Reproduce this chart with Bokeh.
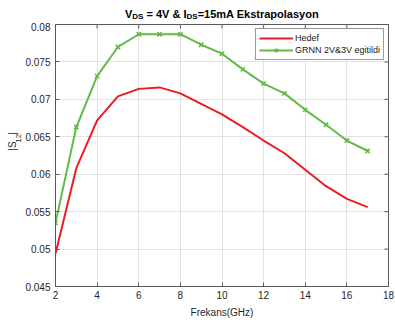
import math
from bokeh.plotting import figure
from bokeh.layouts import column, row
from bokeh.models import (ColumnDataSource, FixedTicker, CustomJSTickFormatter,
                          Legend, LegendItem, Range1d)
from bokeh.core.properties import value
from bokeh.embed import file_html
from bokeh.resources import INLINE

# ---- data ----
freq = [2, 3, 4, 5, 6, 7, 8, 9, 10, 11, 12, 13, 14, 15, 16, 17]
hedef = [0.0494, 0.0608, 0.0672, 0.0704, 0.0714, 0.0716, 0.0708, 0.0694,
         0.0680, 0.0663, 0.0645, 0.0628, 0.0606, 0.0584, 0.0567, 0.0556]
grnn = [0.0535, 0.0663, 0.0731, 0.0770, 0.0787, 0.0787, 0.0787, 0.0773,
        0.0761, 0.0740, 0.0721, 0.0708, 0.0686, 0.0666, 0.0645, 0.0631]
x_ticks = [2, 4, 6, 8, 10, 12, 14, 16, 18]
y_ticks = [0.045, 0.05, 0.055, 0.06, 0.065, 0.07, 0.075, 0.08]
series_names = ["Hedef", "GRNN 2V&3V egitildi"]
title_parts = ["V", "DS", "= 4V & I", "DS", "=15mA Ekstrapolasyon"]
ylabel_parts = ["|S", "12", "|"]
xlabel = "Frekans(GHz)"

FONT = "Liberation Sans"
TXT = "#262626"
RED = "#ec1c24"
GREEN = "#62bb46"
AXC = "#595959"

W, H = 395, 323
TITLE_H = 22
YLAB_W = 22
L, R, T, B = 55, 7, 24, 37
X0, X1 = 2, 18
Y0, Y1 = 0.045, 0.08

fw = W - L - R
fh = H - T - B

# ---- main plot ----
p = figure(width=W - YLAB_W, height=H - TITLE_H, output_backend="svg",
           toolbar_location=None, title=None,
           x_range=Range1d(X0, X1), y_range=Range1d(Y0, Y1),
           min_border_left=L - YLAB_W, min_border_right=R,
           min_border_top=T - TITLE_H, min_border_bottom=B,
           background_fill_color="white", border_fill_color="white")

src = ColumnDataSource(dict(x=freq, h=hedef, g=grnn))
r1 = p.line("x", "h", source=src, line_color=RED, line_width=2)
r2 = p.line("x", "g", source=src, line_color=GREEN, line_width=2)
r3 = p.scatter("x", "g", source=src, marker="x", size=6, line_color=GREEN,
               line_width=1.6)

fmt = CustomJSTickFormatter(code="return String(parseFloat(tick.toFixed(4)));")
for ax in p.xaxis + p.yaxis:
    ax.axis_line_color = AXC
    ax.major_tick_line_color = AXC
    ax.major_tick_in = 4
    ax.major_tick_out = 0
    ax.minor_tick_line_color = None
    ax.major_label_text_font = FONT
    ax.major_label_text_font_size = "10px"
    ax.major_label_text_color = TXT
    ax.formatter = fmt
p.xaxis.ticker = FixedTicker(ticks=x_ticks)
p.yaxis.ticker = FixedTicker(ticks=y_ticks)
p.xaxis.major_label_standoff = 4
p.yaxis.major_label_standoff = 5
p.xaxis.axis_label = xlabel
p.xaxis.axis_label_text_font = FONT
p.xaxis.axis_label_text_font_size = "10px"
p.xaxis.axis_label_text_font_style = "normal"
p.xaxis.axis_label_text_color = TXT
p.xaxis.axis_label_standoff = 5

# inward ticks on the top and right edges of the box, at the tick values
dy = 4 * (Y1 - Y0) / fh
dx = 4 * (X1 - X0) / fw
p.segment(x0=x_ticks, x1=x_ticks, y0=[Y1] * len(x_ticks),
          y1=[Y1 - dy] * len(x_ticks), line_color=AXC, line_width=1)
p.segment(x0=[X1] * len(y_ticks), x1=[X1 - dx] * len(y_ticks),
          y0=y_ticks, y1=y_ticks, line_color=AXC, line_width=1)

p.outline_line_color = AXC
p.grid.grid_line_color = "#e2e2e2"
p.grid.grid_line_width = 1

legend = Legend(items=[LegendItem(label=series_names[0], renderers=[r1]),
                       LegendItem(label=series_names[1], renderers=[r2, r3])],
                location="top_right", margin=4, padding=3, spacing=0,
                glyph_width=34, glyph_height=12, label_height=12,
                label_standoff=2, label_text_font=FONT,
                label_text_font_size="9px", label_text_color="#1a1a1a",
                border_line_color="#333333", border_line_width=1,
                background_fill_alpha=1)
p.add_layout(legend)

# ---- title strip (pixel coordinates) ----
tp = figure(width=W, height=TITLE_H, output_backend="svg", toolbar_location=None,
            title=None, x_range=Range1d(0, W), y_range=Range1d(TITLE_H, 0),
            x_axis_location=None, y_axis_location=None, min_border=0,
            outline_line_color=None, border_fill_color="white")
tp.grid.visible = False
main_fs, sub_fs = 11, 8
base_main, base_sub = 13, 16
# advance (em) of each part; the 3rd part follows a space
lead = [0.0, 0.0, 0.278, 0.0, 0.0]
ems = [0.667, 0.722 + 0.667, 3.641, 0.722 + 0.667, 11.03]
sizes = [main_fs, sub_fs, main_fs, sub_fs, main_fs]
bases = [base_main, base_sub, base_main, base_sub, base_main]
total = sum(s * (e + l) for s, e, l in zip(sizes, ems, lead))
xpos = L + fw / 2 - total / 2
xs = []
for s, e, l in zip(sizes, ems, lead):
    xpos += l * main_fs
    xs.append(xpos)
    xpos += s * e
tp.text(x=xs, y=bases, text=title_parts,
        text_font_size=[f"{s}px" for s in sizes], text_font=value(FONT),
        text_font_style="bold", text_color="black", text_align="left",
        text_baseline="alphabetic")

# ---- y label strip (pixel coordinates, page y minus TITLE_H) ----
yp = figure(width=YLAB_W, height=H - TITLE_H, output_backend="svg",
            toolbar_location=None, title=None,
            x_range=Range1d(0, YLAB_W), y_range=Range1d(H - TITLE_H, 0),
            x_axis_location=None, y_axis_location=None, min_border=0,
            outline_line_color=None, border_fill_color="white")
yp.grid.visible = False
ysz = [10, 8, 10]
yem = [0.26 + 0.667, 1.112, 0.26]
ybx = [12.0, 18.0, 12.0]
ypos = 167 - TITLE_H
yy = []
for s, e in zip(ysz, yem):
    yy.append(ypos)
    ypos -= s * e
yp.text(x=ybx, y=yy, text=ylabel_parts, angle=math.pi / 2,
        text_font_size=[f"{s}px" for s in ysz], text_font=value(FONT),
        text_color=TXT, text_align="left", text_baseline="alphabetic")

layout = column(tp, row(yp, p, spacing=0), spacing=0)
open("out.html", "w").write(file_html(layout, INLINE))
